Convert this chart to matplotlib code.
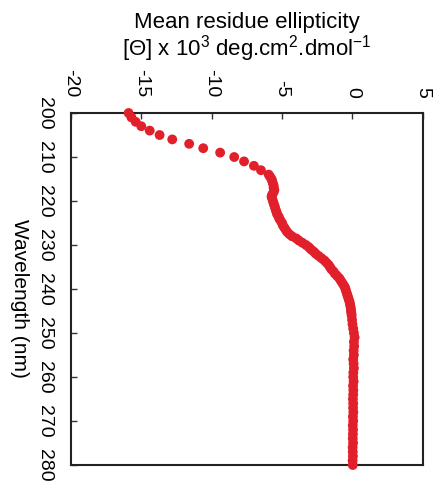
import matplotlib
matplotlib.use("Agg")
import matplotlib.pyplot as plt

plt.rcParams['font.family'] = ['Liberation Sans', 'DejaVu Sans']
plt.rcParams['mathtext.fontset'] = 'custom'
plt.rcParams['mathtext.rm'] = 'Liberation Sans'
plt.rcParams['mathtext.it'] = 'Liberation Sans'
plt.rcParams['mathtext.default'] = 'regular'

wavelength = [200, 201, 202, 203, 204, 205, 206, 207, 208, 209, 210, 211, 212, 213, 214,
              214.5, 215, 215.5, 216, 216.5, 217, 217.5, 218, 218.5, 219, 219.5, 220,
              220.5, 221, 221.5, 222, 222.5, 223, 223.5, 224, 224.5, 225, 225.5, 226,
              226.5, 227, 227.5, 228, 228.5, 229, 229.5, 230, 230.5, 231, 231.5, 232,
              232.5, 233, 233.5, 234, 234.5, 235, 235.5, 236, 236.5, 237, 237.5, 238,
              238.5, 239, 239.5, 240, 240.5, 241, 241.5, 242, 242.5, 243, 243.5, 244,
              244.5, 245, 245.5, 246, 247, 248, 249, 250, 251, 252, 253, 254, 255, 256,
              257, 258, 259, 260, 261, 262, 263, 264, 265, 266, 267, 268, 269, 270, 271,
              272, 273, 274, 275, 276, 277, 278, 279, 280]
ellipticity = [-15.9, -15.7, -15.4, -15.0, -14.4, -13.7, -12.8, -11.6, -10.6, -9.4, -8.4, -7.7, -7.0, -6.5, -5.95,
               -5.85, -5.75, -5.7, -5.65, -5.6, -5.6, -5.55, -5.6, -5.7, -5.75, -5.7, -5.65,
               -5.6, -5.55, -5.5, -5.45, -5.4, -5.35, -5.25, -5.2, -5.1, -5.0, -4.95, -4.85,
               -4.75, -4.65, -4.5, -4.3, -4.0, -3.8, -3.55, -3.3, -3.1, -2.95, -2.75, -2.6,
               -2.4, -2.2, -2.0, -1.85, -1.7, -1.6, -1.5, -1.35, -1.25, -1.1, -0.95, -0.85,
               -0.75, -0.65, -0.55, -0.5, -0.45, -0.4, -0.35, -0.3, -0.25, -0.2, -0.17, -0.14,
               -0.12, -0.1, -0.08, -0.06, -0.03, 0.0, 0.05, 0.1, 0.15, 0.1, 0.12, 0.08, 0.1, 0.05,
               0.08, 0.1, 0.06, 0.05, 0.08, 0.04, 0.06, 0.05, 0.03, 0.05, 0.04, 0.06, 0.03, 0.05, 0.02,
               0.04, 0.03, 0.02, 0.04, 0.01, 0.02, 0.03, 0.01, 0.02]

xticks = [-20, -15, -10, -5, 0, 5]
yticks = [200, 210, 220, 230, 240, 250, 260, 270, 280]

fig = plt.figure(figsize=(4.43, 4.92), dpi=100)
ax = fig.add_axes([0.160, 0.0549, 0.7946, 0.7154])

ax.scatter(ellipticity, wavelength, s=50, color='#e1202b', edgecolors='none', zorder=3, clip_on=False)

ax.set_xlim(-20, 5)
ax.set_ylim(280, 200)
ax.set_xticks(xticks)
ax.set_yticks(yticks)
ax.set_xticklabels([str(t) for t in xticks], rotation=-90)
ax.set_yticklabels([str(t) for t in yticks], rotation=-90, va='center')

ax.xaxis.tick_top()
ax.xaxis.set_label_position('top')
ax.tick_params(axis='x', direction='in', length=4, width=1, pad=11, labelsize=14, color='#333333')
ax.tick_params(axis='y', direction='in', length=4, width=1, pad=13, labelsize=14, color='#333333')
for lab in ax.get_xticklabels():
    lab.set_va('bottom')

for sp in ax.spines.values():
    sp.set_linewidth(1.5)
    sp.set_color('#222222')

ax.set_xlabel('Mean residue ellipticity\n[\u0398] x 10$^{3}$ deg.cm$^{2}$.dmol$^{-1}$',
              fontsize=16, labelpad=10, linespacing=1.0)
ax.set_ylabel('Wavelength (nm)', fontsize=15, rotation=-90, ha='center', va='center')
ax.yaxis.set_label_coords(-0.145, 0.472)

fig.savefig('out.png', dpi=100)
